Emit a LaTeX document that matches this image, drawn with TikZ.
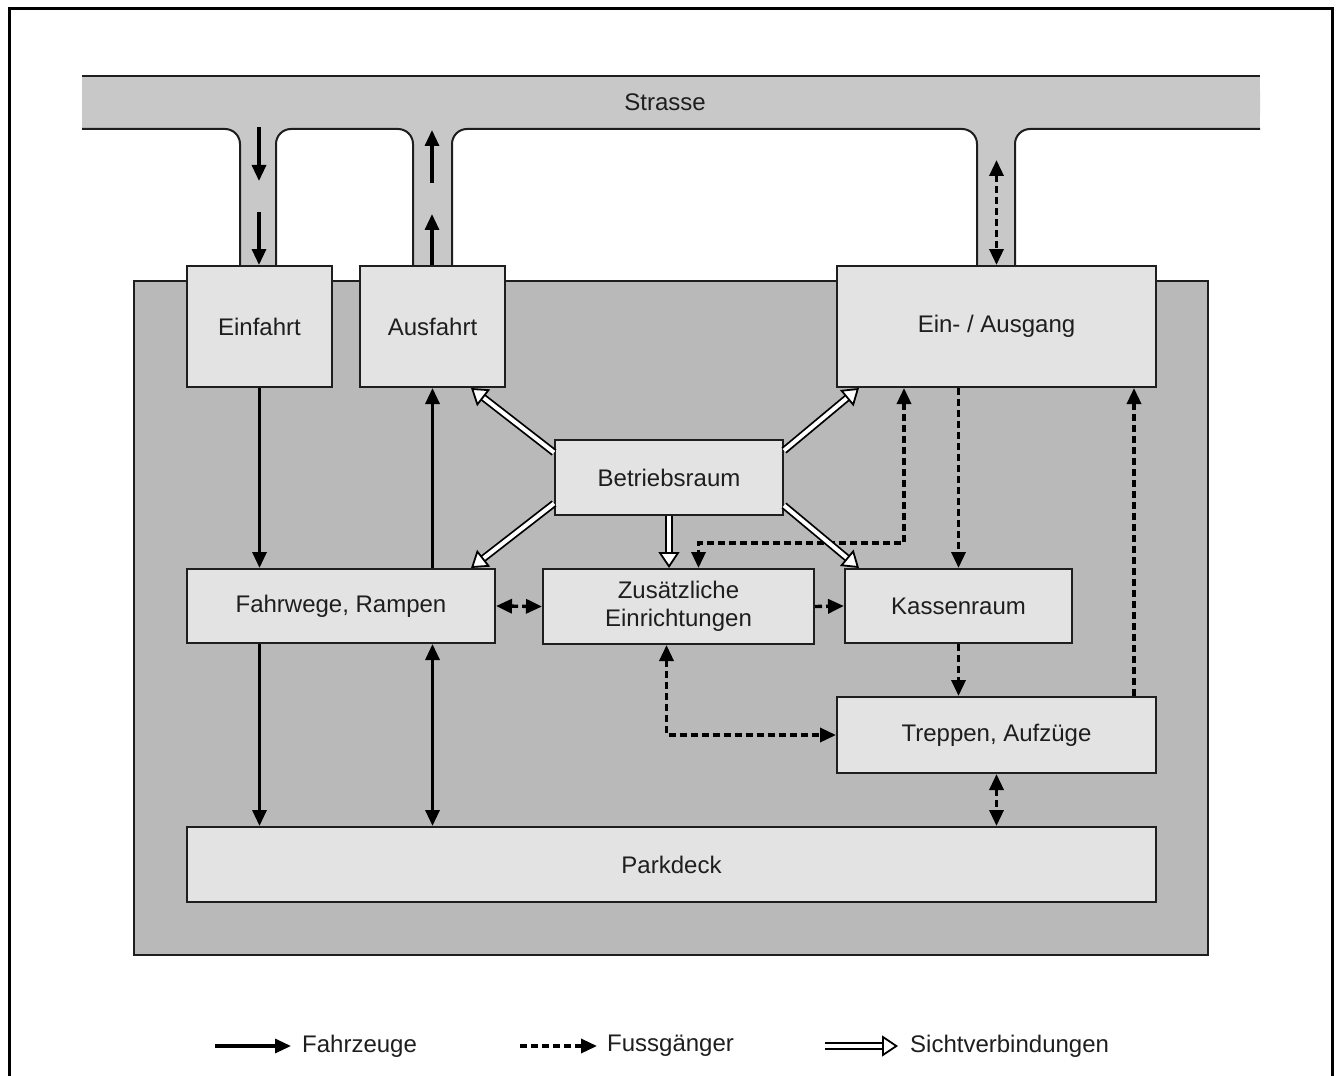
\documentclass[tikz,border=0pt]{standalone}
\usepackage{fontspec}
\setmainfont{Liberation Sans}
\usetikzlibrary{arrows.meta}
\definecolor{strasse}{HTML}{C8C8C8}
\definecolor{flaeche}{HTML}{B9B9B9}
\definecolor{kasten}{HTML}{E3E3E3}
\definecolor{linie}{HTML}{1E1E1E}

\begin{document}
\begin{tikzpicture}[x=1pt,y=-1pt]
\tikzstyle{box}=[draw=linie, line width=2pt, fill=kasten, inner sep=0pt, text=linie, align=center, font=\fontsize{24}{28}\selectfont]
\tikzstyle{fahr}=[line width=3.2pt, -{Triangle[length=16pt,width=14pt]}]
\tikzstyle{fuss}=[line width=3.4pt, dash pattern=on 7pt off 4pt, -{Triangle[length=16pt,width=14pt]}]
\tikzstyle{sicht}=[line width=1.8pt, double=white, double distance=4pt, -{Triangle[open,fill=white,length=16pt,width=21pt,line width=1.8pt]}]
\tikzstyle{legende}=[inner sep=0pt, anchor=west, text=linie, font=\fontsize{24}{28}\selectfont]
\useasboundingbox (0,0) rectangle (1337,1075);
\draw[line width=3pt] (9,1100) -- (9,9) -- (1332,9) -- (1332,1100);

% Strasse mit drei Zufahrten
\fill[strasse] (82,76) rectangle (1260,129);
\fill[strasse, rounded corners=15pt] (82,129) -- (240,129) -- (240,300) -- (276,300) -- (276,129)
  -- (413,129) -- (413,300) -- (452,300) -- (452,129) -- (977,129) -- (977,300) -- (1015,300)
  -- (1015,129) -- (1260,129) -- (1260,76) -- (82,76) -- cycle;
\begin{scope}[draw=linie, line width=2pt]
\draw (82,76) -- (1260,76);
\draw[rounded corners=15pt] (82,129) -- (240,129) -- (240,300);
\draw[rounded corners=15pt] (276,300) -- (276,129) -- (413,129) -- (413,300);
\draw[rounded corners=15pt] (452,300) -- (452,129) -- (977,129) -- (977,300);
\draw[rounded corners=15pt] (1015,300) -- (1015,129) -- (1260,129);
\end{scope}
\node[text=linie, font=\fontsize{24}{28}\selectfont] (strasse) at (665,102) {Strasse};

% Grundstueck
\filldraw[fill=flaeche, draw=linie, line width=2pt] (134,281) rectangle (1208,955);

\node[box, minimum width=145pt, minimum height=121pt] (einfahrt) at (259.5,326.5) {Einfahrt};
\node[box, minimum width=145pt, minimum height=121pt] (ausfahrt) at (432.5,326.5) {Ausfahrt};
\node[box, minimum width=319pt, minimum height=121pt] (eingang) at (996.5,326.5) {Ein- / Ausgang};
\node[box, minimum width=228pt, minimum height=75pt] (betrieb) at (669,477.5) {Betriebsraum};
\node[box, minimum width=308pt, minimum height=74pt] (fahrwege) at (341,606) {Fahrwege, Rampen};
\node[box, minimum width=271pt, minimum height=75pt] (zusatz) at (678.5,606.5) {Zusätzliche\\Einrichtungen};
\node[box, minimum width=227pt, minimum height=74pt] (kasse) at (958.5,606) {Kassenraum};
\node[box, minimum width=319pt, minimum height=76pt] (treppen) at (996.5,735) {Treppen, Aufzüge};
\node[box, minimum width=969pt, minimum height=75pt] (parkdeck) at (671.5,864.5) {Parkdeck};

% Zufahrten
\coordinate (ein1) at (259,127);
\coordinate (ein2) at (259,181);
\coordinate (ein3) at (259,212);
\coordinate (aus1) at (432,183);
\coordinate (aus2) at (432,130);
\coordinate (aus3) at (432,214);
\coordinate (weg) at (996.5,160);
\draw[fahr] (ein1) -- (ein2);
\draw[fahr] (ein3) -- (einfahrt.north -| ein3);
\draw[fahr] (aus1) -- (aus2);
\draw[fahr] (ausfahrt.north -| aus3) -- (aus3);
\draw[fuss, {Triangle[length=16pt,width=14pt]}-{Triangle[length=16pt,width=14pt]}] (weg) -- (eingang.north);

% Fahrzeuge
\draw[fahr] (einfahrt.south) -- (fahrwege.north -| einfahrt.south);
\draw[fahr] (fahrwege.north -| ausfahrt.south) -- (ausfahrt.south);
\draw[fahr] (fahrwege.south -| einfahrt.south) -- (parkdeck.north -| einfahrt.south);
\draw[fahr, {Triangle[length=16pt,width=14pt]}-{Triangle[length=16pt,width=14pt]}] (fahrwege.south -| ausfahrt.south) -- (parkdeck.north -| ausfahrt.south);

% Fussgaenger
\draw[fuss] (eingang.south -| kasse.north) -- (kasse.north);
\draw[fuss] (kasse.south) -- (treppen.north -| kasse.south);
\draw[fuss] ([xshift=-23pt]treppen.north east) -- ([xshift=-23pt]eingang.south east);
\draw[fuss, {Triangle[length=16pt,width=14pt]}-{Triangle[length=16pt,width=14pt]}] ([xshift=68pt]eingang.south west) -- ++(0,155) -| ([xshift=20pt]zusatz.north);
\draw[fuss, {Triangle[length=16pt,width=14pt]}-{Triangle[length=16pt,width=14pt]}] (fahrwege.east) -- (zusatz.west);
\draw[fuss] (zusatz.east) -- (kasse.west);
\draw[fuss, {Triangle[length=16pt,width=14pt]}-{Triangle[length=16pt,width=14pt]}] ([xshift=-12pt]zusatz.south) |- (treppen.west);
\draw[fuss, {Triangle[length=16pt,width=14pt]}-{Triangle[length=16pt,width=14pt]}] (treppen.south) -- (parkdeck.north -| treppen.south);

% Sichtverbindungen
\draw[sicht] ([yshift=25pt]betrieb.west) -- ([xshift=-35pt]ausfahrt.south east);
\draw[sicht] ([yshift=27pt]betrieb.east) -- ([xshift=23pt]eingang.south west);
\draw[sicht] ([yshift=-26pt]betrieb.west) -- ([xshift=-25pt]fahrwege.north east);
\draw[sicht] ([yshift=-28pt]betrieb.east) -- ([xshift=15pt]kasse.north west);
\draw[sicht] (betrieb.south) -- (zusatz.north -| betrieb.south);

% Legende
\node[legende] (lfahr) at (302,1046) {Fahrzeuge};
\node[legende] (lfuss) at (607,1046) {Fussgänger};
\node[legende] (lsicht) at (910,1046) {Sichtverbindungen};
\draw[fahr] ([xshift=-87pt]lfahr.west) -- ([xshift=-11pt]lfahr.west);
\draw[fuss] ([xshift=-87pt]lfuss.west) -- ([xshift=-10pt]lfuss.west);
\draw[sicht] ([xshift=-85pt]lsicht.west) -- ([xshift=-12pt]lsicht.west);
\end{tikzpicture}
\end{document}
